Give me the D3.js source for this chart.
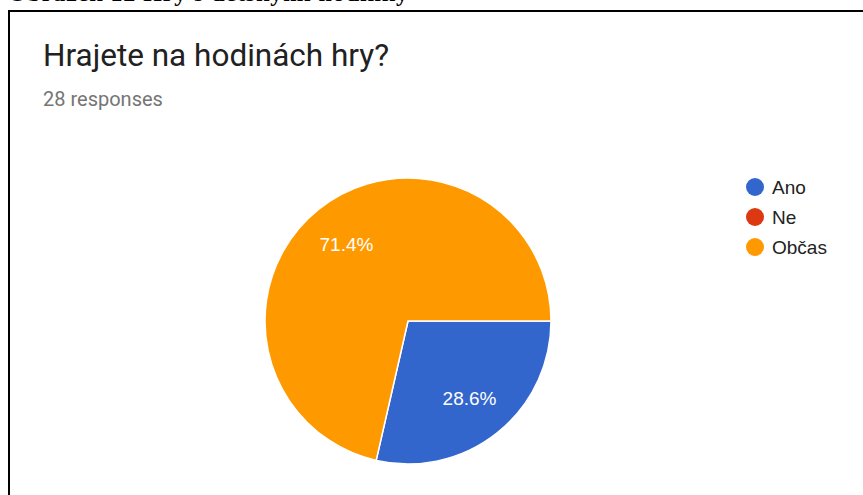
<!DOCTYPE html>
<html>
<head>
<meta charset="utf-8">
<style>
  body { margin: 0; background: #fff; }
  svg { display: block; }
</style>
</head>
<body>
<div id="chart"></div>
<script src="https://d3js.org/d3.v7.min.js"></script>
<script>
    // data (28 responses)
    var categories = ["Ano", "Ne", "Občas"];
    var counts = [8, 0, 20];
    var colors = ["#3366cc", "#dc3912", "#ff9900"];
    var title = "Hrajete na hodinách hry?";
    var subtitle = "28 responses";
    var caption = "Obrázek 12 Hry s dětskými hodinky";

    var width = 863, height = 495;
    var cx = 408, cy = 321, radius = 143;

    var svg = d3.select("#chart")
        .append("svg")
        .attr("width", width)
        .attr("height", height);

    // caption cut off at the top of the picture
    svg.append("text")
        .attr("x", 8)
        .attr("y", 1)
        .attr("textLength", 400)
        .style("font-family", "'Liberation Serif', 'Times New Roman', serif")
        .style("font-size", "24px")
        .style("font-weight", "bold")
        .text(caption);

    // frame around the screenshot
    svg.append("rect")
        .attr("x", 9)
        .attr("y", 11)
        .attr("width", width + 20)
        .attr("height", height + 20)
        .attr("fill", "none")
        .attr("stroke", "#000")
        .attr("stroke-width", 2);

    svg.append("text")
        .attr("x", 43)
        .attr("y", 66)
        .style("font-family", "Roboto, Arial, sans-serif")
        .style("font-size", "31.5px")
        .style("fill", "#212121")
        .text(title);

    svg.append("text")
        .attr("x", 43)
        .attr("y", 106)
        .style("font-family", "Roboto, Arial, sans-serif")
        .style("font-size", "20px")
        .style("fill", "#757575")
        .text(subtitle);

    var color = d3.scaleOrdinal()
        .domain(categories)
        .range(colors);

    var data = categories.map(function(c, i) { return { key: c, value: counts[i] }; });
    var total = d3.sum(counts);

    var pie = d3.pie()
        .sort(null)
        .startAngle(Math.PI / 2)
        .endAngle(Math.PI / 2 + 2 * Math.PI)
        .value(function(d) { return d.value; });

    var data_ready = pie(data);

    var arc = d3.arc()
        .innerRadius(0)
        .outerRadius(radius);

    var labelArc = d3.arc()
        .innerRadius(radius * 0.69)
        .outerRadius(radius * 0.69);

    var g = svg.append("g")
        .attr("transform", "translate(" + cx + "," + cy + ")");

    g.selectAll("path")
        .data(data_ready.filter(function(d) { return d.value > 0; }))
        .enter()
        .append("path")
        .attr("d", arc)
        .attr("fill", function(d) { return color(d.data.key); })
        .attr("stroke", "#fff")
        .attr("stroke-width", 1.5);

    g.selectAll("text")
        .data(data_ready.filter(function(d) { return d.value > 0; }))
        .enter()
        .append("text")
        .attr("transform", function(d) {
            var c = labelArc.centroid(d);
            return "translate(" + c[0] + "," + c[1] + ")";
        })
        .attr("text-anchor", "middle")
        .attr("dy", "0.35em")
        .style("font-family", "Arial, 'Liberation Sans', sans-serif")
        .style("font-size", "19px")
        .style("fill", "#fff")
        .text(function(d) { return (d.value / total * 100).toFixed(1) + "%"; });

    // legend
    var legend = svg.append("g")
        .selectAll("g")
        .data(categories)
        .enter()
        .append("g")
        .attr("transform", function(d, i) { return "translate(755," + (187 + i * 30) + ")"; });

    legend.append("circle")
        .attr("r", 9)
        .attr("fill", function(d) { return color(d); });

    legend.append("text")
        .attr("x", 17)
        .attr("dy", "0.35em")
        .style("font-family", "Arial, 'Liberation Sans', sans-serif")
        .style("font-size", "19px")
        .style("fill", "#222")
        .text(function(d) { return d; });
</script>
</body>
</html>
